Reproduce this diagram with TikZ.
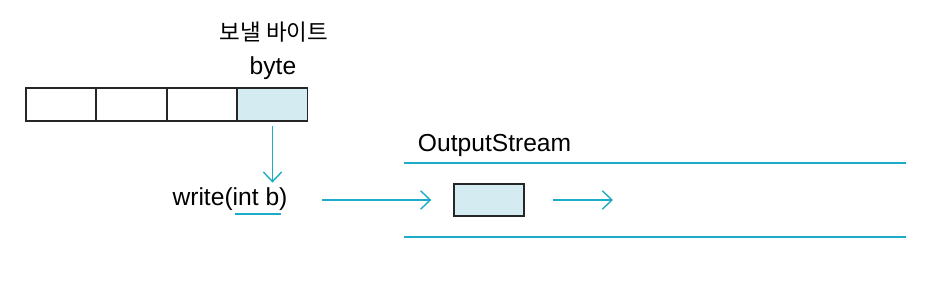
\documentclass[tikz,border=0pt]{standalone}
\usepackage{fontspec}
\setmainfont{Liberation Sans}
\newfontfamily\kofont{Noto Sans CJK KR}
\usetikzlibrary{arrows.meta,positioning}
\definecolor{StreamCyan}{RGB}{28,172,200}
\definecolor{ByteFill}{RGB}{212,235,241}

\begin{document}
\begin{tikzpicture}[x=0.025cm,y=-0.025cm,
    font=\fontsize{17.5}{20}\selectfont,
    cell/.style={draw=black!85, line width=1pt, minimum width=1.75cm, minimum height=0.82cm, inner sep=0pt},
    flow/.style={draw=StreamCyan, line width=1pt, -{Straight Barb[length=2.4mm,width=4.6mm]}},
    rail/.style={draw=StreamCyan, line width=1.3pt}]
        \useasboundingbox (0,0) rectangle (940,281);

        % bytes to send
        \foreach \i in {1,...,4} {
          \node[cell] (c\i) at ({26+35+(\i-1)*70.5},104.5) {};
        }
        \node[cell, fill=ByteFill] at (c4) {};
        \node[font=\kofont\fontsize{16}{19}\selectfont] (sendlbl) at (274,32) {보낼 바이트};
        \node (bytelbl) at (273,68) {byte};

        % write call
        \node (write) at (230,199) {write(int b)};
        \coordinate (ulA) at (235,214);
        \coordinate (ulB) at (281,214);
        \draw[StreamCyan, line width=1pt] (ulA) -- (ulB);
        \draw[flow] ([yshift=-0.1cm]c4.south) -- (write.north -| c4.south);

        % stream
        \coordinate (railTL) at (404,163);
        \coordinate (railTR) at (906,163);
        \coordinate (railBL) at (404,237);
        \coordinate (railBR) at (906,237);
        \draw[rail] (railTL) -- (railTR);
        \draw[rail] (railBL) -- (railBR);
        \node[anchor=base west] (streamlbl) at (413,152) {OutputStream};

        \node[cell, fill=ByteFill, minimum width=1.75cm, minimum height=0.8cm] (packet) at (489,200) {};
        \coordinate (outEnd) at (613,200);
        \draw[flow] ([xshift=0.75cm]write.east |- packet.west) -- ([xshift=-0.55cm]packet.west);
        \draw[flow] ([xshift=0.7cm]packet.east) -- (outEnd);

      \end{tikzpicture}
\end{document}
